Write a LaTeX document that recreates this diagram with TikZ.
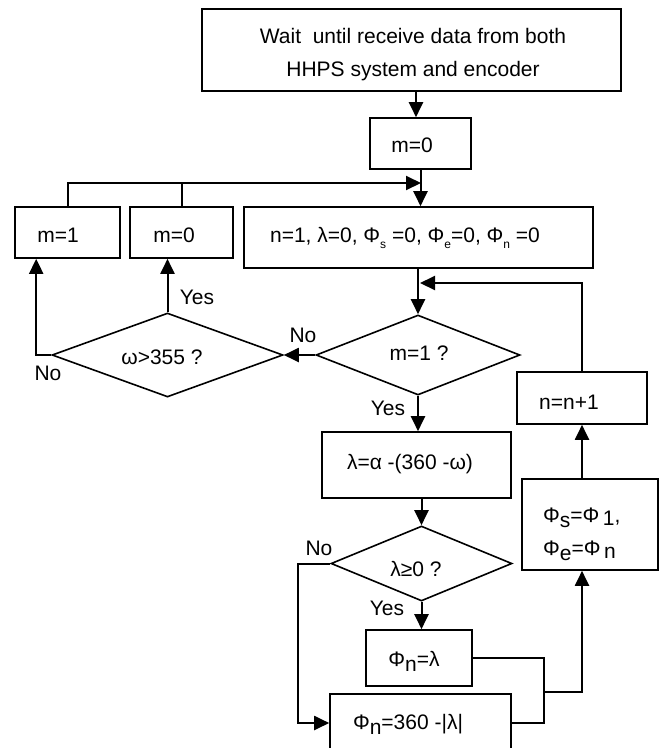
\documentclass[tikz,border=0pt]{standalone}
\usepackage{fontspec}
\setmainfont{Liberation Sans}
\usetikzlibrary{arrows.meta,shapes.geometric}

% small lowered subscript and full-size lowered subscript
\newcommand\lowsub[1]{\raisebox{-6pt}{\fontsize{12}{12}\selectfont #1}}
\newcommand\lowfull[1]{\raisebox{-5pt}{#1}}

\begin{document}
\begin{tikzpicture}[x=1pt,y=-1pt,
  every node/.style={font=\fontsize{21}{33}\selectfont, inner sep=0pt},
  procbox/.style={draw, line width=1.6pt, rectangle},
  decision/.style={draw, line width=1.6pt, diamond},
  arr/.style={line width=2pt, -{Triangle[length=15pt,width=14pt]}},
  joinline/.style={line width=1.6pt}
]
\useasboundingbox (0,0) rectangle (661,748);

% process boxes
\node[procbox, minimum width=419pt, minimum height=82pt] (wait) at (411.5,50) {};
\node[align=center] (waitT) at (413,55) {Wait\ \ until receive data from both\\HHPS system and encoder};
\node[procbox, minimum width=101pt, minimum height=51pt] (m0top) at (420.5,143.5) {};
\node (m0topT) at (412,145) {m=0};
\node[procbox, minimum width=105pt, minimum height=51pt] (m1) at (67.5,232.5) {};
\node (m1T) at (58,235) {m=1};
\node[procbox, minimum width=103pt, minimum height=51pt] (m0l) at (181.5,232.5) {};
\node (m0lT) at (174,235) {m=0};
\node[procbox, minimum width=349pt, minimum height=61pt] (init) at (418.5,237.5) {};
\node (initT) at (405,238) {n=1, λ=0, Φ\lowsub{s} =0, Φ\lowsub{e}=0, Φ\lowsub{n} =0};
\node[procbox, minimum width=189pt, minimum height=66pt] (lam) at (416.5,465) {};
\node (lamT) at (410,464) {λ=α -(360 -ω)};
\node[procbox, minimum width=106pt, minimum height=56pt] (phi1) at (419,658) {};
\node (phi1T) at (414,661) {Φ\lowfull{n}=λ};
\node[procbox, minimum width=181pt, minimum height=58pt] (phi2) at (420.5,723) {};
\node (phi2T) at (408,724) {Φ\lowfull{n}=360 -|λ|};
\node[procbox, minimum width=136pt, minimum height=91pt] (phis) at (590,524.5) {};
\node[anchor=west] (phisT1) at (543,518) {Φ\lowfull{s}=Φ\,\raisebox{-3pt}{1},};
\node[anchor=west] (phisT2) at (543,551) {Φ\lowfull{e}=Φ\,\raisebox{-3pt}{n}};
\node[procbox, minimum width=130pt, minimum height=52pt] (nn) at (582,398) {};
\node (nnT) at (569,402) {n=n+1};

% decisions
\node[decision, minimum width=204pt, minimum height=80pt] (m1q) at (418,355) {};
\node (m1qT) at (419,353) {m=1 ?};
\node[decision, minimum width=231pt, minimum height=84pt] (wq) at (167.5,355) {};
\node (wqT) at (162,357) {ω>355 ?};
\node[decision, minimum width=181pt, minimum height=75pt] (lq) at (421.5,563.5) {};
\node (lqT) at (416,569) {λ≥0 ?};

% junction points
\coordinate (merge) at (421,183);
\coordinate (loop) at (420,283);
\coordinate (jm) at (544,692);

% connectors
\draw[arr] ([xshift=4.5pt]wait.south) -- ([xshift=4.5pt]wait.south |- m0top.north);
\draw[arr] (m0top.south) -- (m0top.south |- init.north);
\draw[arr] (m1.north) |- (merge);
\draw[line width=2pt] (m0l.north) -- (m0l.north |- merge);
\draw[arr] (init.south -| m1q.north) -- (m1q.north);
\draw[arr] (nn.north) |- (loop);
\draw[arr] (m1q.west) -- (wq.east);
\draw[arr] (wq.north) -- (wq.north |- m0l.south);
\draw[arr] (wq.west) -- ++(-15,0) coordinate (wl) -- (wl |- m1.south);
\draw[arr] (m1q.south) -- (m1q.south |- lam.north);
\draw[arr] (lam.south -| lq.north) -- (lq.north);
\draw[arr] (lq.south) -- (lq.south |- phi1.north);
\draw[arr] (lq.west) -- ++(-32,0) coordinate (ll) |- (phi2.west);
\draw[joinline] (phi1.east) -| (jm);
\draw[joinline] (phi2.east) -| (jm);
\draw[arr] (jm) -| (nn.south |- phis.south);
\draw[arr] (nn.south |- phis.north) -- (nn.south);

% branch labels
\node (yes1) at (197,297) {Yes};
\node (no1) at (48,373) {No};
\node (no2) at (303,335) {No};
\node (yes2) at (388,408) {Yes};
\node (no3) at (319,548) {No};
\node (yes3) at (387,608) {Yes};
\end{tikzpicture}
\end{document}
